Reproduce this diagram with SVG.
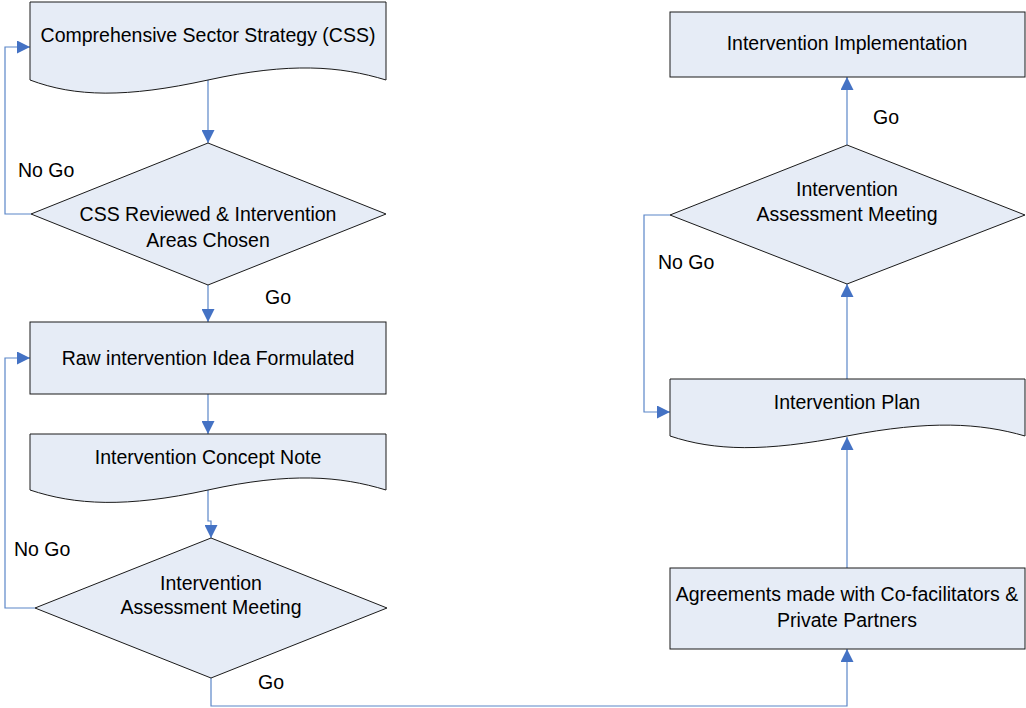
<svg xmlns="http://www.w3.org/2000/svg" width="1026" height="708" viewBox="0 0 1026 708">
<style>
.shape{fill:#e6ecf6;stroke:#1a1a1a;stroke-width:1}
.conn{fill:none;stroke:#5b86c8;stroke-width:1.2}
text{font-family:"Liberation Sans",Arial,sans-serif;font-size:19.5px;fill:#000}
.c{text-anchor:middle}
</style>
<defs>
<marker id="arr" markerUnits="userSpaceOnUse" markerWidth="14" markerHeight="13" refX="13" refY="6.5" orient="auto">
<path d="M0,0 L13,6.5 L0,13 Z" fill="#4472c4"/>
</marker>
</defs>
<rect width="1026" height="708" fill="#ffffff"/>
<g id="connectors">
<path class="conn" d="M208,80 V143" marker-end="url(#arr)"/>
<path class="conn" d="M31,214 H5 V47 H30" marker-end="url(#arr)"/>
<path class="conn" d="M208,285 V322" marker-end="url(#arr)"/>
<path class="conn" d="M208,394 V434" marker-end="url(#arr)"/>
<path class="conn" d="M208,490 V521 H211 V538" marker-end="url(#arr)"/>
<path class="conn" d="M35,608 H5 V358 H30" marker-end="url(#arr)"/>
<path class="conn" d="M211,678 V706 H847 V649" marker-end="url(#arr)"/>
<path class="conn" d="M847,568 V437" marker-end="url(#arr)"/>
<path class="conn" d="M847,379 V284" marker-end="url(#arr)"/>
<path class="conn" d="M670,215 H644 V412 H670" marker-end="url(#arr)"/>
<path class="conn" d="M847,145 V77" marker-end="url(#arr)"/>
<text x="18" y="177">No Go</text>
<text x="265" y="304">Go</text>
<text x="14" y="556">No Go</text>
<text x="258" y="689">Go</text>
<text x="658" y="269">No Go</text>
<text x="873" y="124">Go</text>
</g>
<g id="css">
<path class="shape" d="M30,2 H386 V80 C340,66 290,62 208,80 S75,97 30,80 Z"/>
<text class="c" x="208" y="42">Comprehensive Sector Strategy (CSS)</text>
</g>
<g id="review">
<path class="shape" d="M208,143 L386,214 L208,285 L31,214 Z"/>
<text class="c" x="208" y="221">CSS Reviewed &amp; Intervention</text>
<text class="c" x="208" y="247">Areas Chosen</text>
</g>
<g id="raw">
<rect class="shape" x="30" y="322" width="356" height="72"/>
<text class="c" x="208" y="365">Raw intervention Idea Formulated</text>
</g>
<g id="concept">
<path class="shape" d="M30,434 H386 V490 C340,476 290,472 208,490 S75,505 30,490 Z"/>
<text class="c" x="208" y="464">Intervention Concept Note</text>
</g>
<g id="assess1">
<path class="shape" d="M211,538 L387,608 L211,678 L35,608 Z"/>
<text class="c" x="211" y="590">Intervention</text>
<text class="c" x="211" y="614">Assessment Meeting</text>
</g>
<g id="agreements">
<rect class="shape" x="670" y="568" width="355" height="81"/>
<text class="c" x="847" y="601">Agreements made with Co-facilitators &amp;</text>
<text class="c" x="847" y="627">Private Partners</text>
</g>
<g id="plan">
<path class="shape" d="M670,379 H1025 V436 C980,423 930,420 847,436 S715,451 670,436 Z"/>
<text class="c" x="847" y="409">Intervention Plan</text>
</g>
<g id="assess2">
<path class="shape" d="M847,145 L1025,215 L847,284 L670,215 Z"/>
<text class="c" x="847" y="196">Intervention</text>
<text class="c" x="847" y="221">Assessment Meeting</text>
</g>
<g id="implementation">
<rect class="shape" x="670" y="12" width="355" height="65"/>
<text class="c" x="847" y="50">Intervention Implementation</text>
</g>
</svg>
